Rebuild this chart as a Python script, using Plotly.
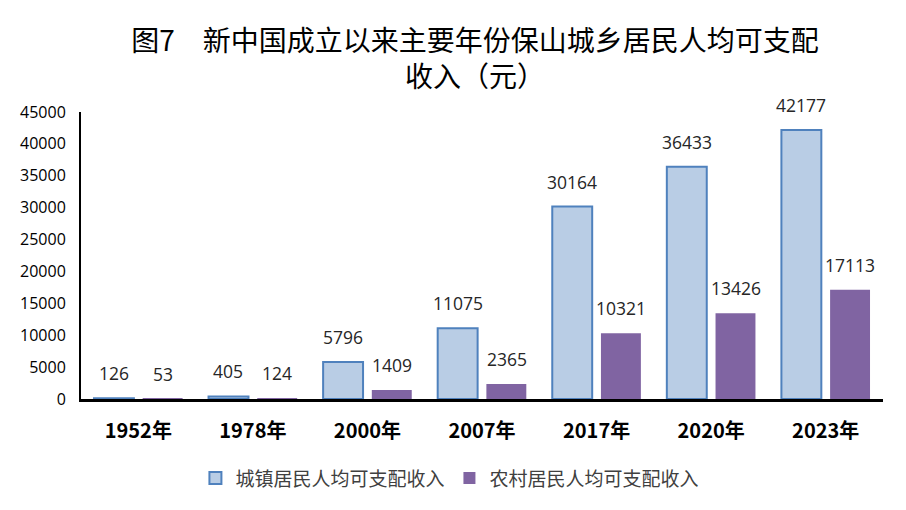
import plotly.graph_objects as go

years = ["1952年", "1978年", "2000年", "2007年", "2017年", "2020年", "2023年"]
urban = [126, 405, 5796, 11075, 30164, 36433, 42177]
rural = [53, 124, 1409, 2365, 10321, 13426, 17113]
series_names = ["城镇居民人均可支配收入", "农村居民人均可支配收入"]
y_ticks = [0, 5000, 10000, 15000, 20000, 25000, 30000, 35000, 40000, 45000]

fig = go.Figure()
fig.add_trace(go.Bar(
    x=years, y=urban, name=series_names[0],
    marker=dict(color="#B9CDE5", line=dict(color="#4F81BD", width=2)),
))
fig.add_trace(go.Bar(
    x=years, y=rural, name=series_names[1],
    marker=dict(color="#8064A2", line=dict(width=0)),
))

annotations = []
for vals, shift in ((urban, -24.5), (rural, 24.5)):
    for x, v in zip(years, vals):
        annotations.append(dict(
            x=x, y=v, xref="x", yref="y", text=str(v), showarrow=False,
            xshift=shift, yshift=11, yanchor="bottom",
            font=dict(family="Open Sans, Liberation Sans, sans-serif", size=17.5, color="#262626"),
        ))

fig.update_layout(
    width=898, height=502,
    paper_bgcolor="white", plot_bgcolor="white",
    margin=dict(l=65, r=23, t=104, b=111),
    barmode="group", bargap=0.15, bargroupgap=0.18,
    title=dict(
        text="图7　新中国成立以来主要年份保山城乡居民人均可支配<br>收入（元）",
        x=0.52, xanchor="center", y=0.915, yanchor="top",
        font=dict(family="Noto Sans CJK SC", size=28, color="#000000"),
    ),
    font=dict(family="Noto Sans CJK SC"),
    showlegend=True,
    legend=dict(
        orientation="h", x=0.46, xanchor="center", y=-0.21, yanchor="top",
        font=dict(family="Noto Sans CJK SC", size=19, color="#404040"),
        itemwidth=30, tracegroupgap=0,
    ),
    annotations=annotations,
)
fig.update_yaxes(
    range=[0, 45000], tickvals=y_ticks, ticktext=[str(t) for t in y_ticks],
    showgrid=False, zeroline=False, showline=True, linecolor="#000000", linewidth=2,
    ticks="outside", ticklen=10, tickcolor="rgba(0,0,0,0)",
    tickfont=dict(family="Open Sans, Liberation Sans, sans-serif", size=16, color="#000000"),
)
fig.update_xaxes(
    showgrid=False, showline=True, linecolor="#000000", linewidth=3,
    ticks="outside", ticklen=12, tickcolor="rgba(0,0,0,0)",
    tickfont=dict(family="Noto Sans CJK SC", size=20, color="#000000", weight="bold"),
)

fig.write_html("out.html")
